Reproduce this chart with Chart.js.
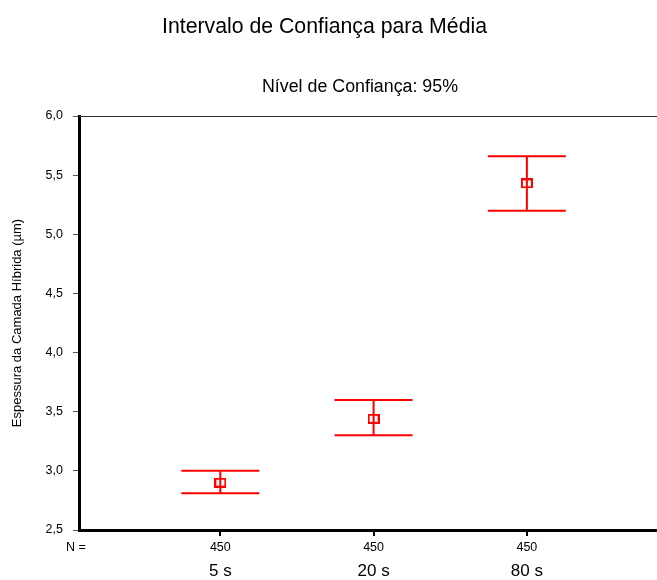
<!DOCTYPE html>
<html lang="pt">
<head>
<meta charset="utf-8">
<title>Intervalo de Confiança para Média</title>
<script src="https://cdn.jsdelivr.net/npm/chart.js@4.4.1/dist/chart.umd.min.js"></script>
<style>
  html, body { margin: 0; padding: 0; background: #ffffff; }
  #wrap { width: 657px; height: 580px; overflow: hidden; }
  canvas { display: block; }
</style>
</head>
<body>
<div id="wrap"><canvas id="chart" width="657" height="580"></canvas></div>
<script>
// Espessura da camada híbrida: média e intervalo de confiança de 95% por tempo
const categories = ['5 s', '20 s', '80 s'];
const nCounts    = [450, 450, 450];
const means      = [2.90, 3.44, 5.43];
const lowerCI    = [2.81, 3.30, 5.20];
const upperCI    = [3.00, 3.60, 5.66];
const yTickValues = [2.5, 3.0, 3.5, 4.0, 4.5, 5.0, 5.5, 6.0];

const FONT = "'Liberation Sans Narrow', 'Arial Narrow', 'Liberation Sans', Arial, sans-serif";
const RED = '#ff0000';
const X_MIN = 0.078, X_MAX = 3.849;
const N_LABEL_POS = X_MIN - 0.02;

// hollow rectangular marker for the mean
function makeMarker() {
  const c = document.createElement('canvas');
  c.width = 12; c.height = 10;
  const g = c.getContext('2d');
  g.strokeStyle = RED;
  g.lineWidth = 2;
  g.strokeRect(1, 1, 10, 8);
  return c;
}

// whiskers with caps, drawn from the interval arrays through the scales
const intervalPlugin = {
  id: 'intervalPlugin',
  beforeDatasetsDraw(chart) {
    const { ctx } = chart;
    const xs = chart.scales.x, ys = chart.scales.y;
    const capHalf = 39;
    ctx.save();
    ctx.strokeStyle = RED;
    ctx.lineWidth = 2;
    categories.forEach((c, i) => {
      const px = xs.getPixelForValue(i + 1);
      const yHi = ys.getPixelForValue(upperCI[i]);
      const yLo = ys.getPixelForValue(lowerCI[i]);
      ctx.beginPath();
      ctx.moveTo(px, yHi); ctx.lineTo(px, yLo);
      ctx.moveTo(px - capHalf, yHi); ctx.lineTo(px + capHalf, yHi);
      ctx.moveTo(px - capHalf, yLo); ctx.lineTo(px + capHalf, yLo);
      ctx.stroke();
    });
    ctx.restore();
  }
};

// headings and the thin top frame line
const captionPlugin = {
  id: 'captionPlugin',
  afterDraw(chart) {
    const { ctx, chartArea } = chart;
    ctx.save();
    ctx.strokeStyle = '#333333';
    ctx.lineWidth = 1;
    const ty = Math.floor(chartArea.top) + 0.5;
    ctx.beginPath();
    ctx.moveTo(chartArea.left, ty); ctx.lineTo(chartArea.right, ty);
    ctx.stroke();

    ctx.fillStyle = '#000000';
    ctx.textAlign = 'center';
    ctx.textBaseline = 'alphabetic';
    ctx.font = "22px " + FONT;
    ctx.fillText('Intervalo de Confiança para Média', 324.5, 33, 325);
    ctx.font = "18px " + FONT;
    ctx.fillText('Nível de Confiança: 95%', 360, 92, 196);
    ctx.restore();
  }
};

// keep the horizontal axes flush with the chart edges
function flatBottomAxis(height) {
  return s => {
    s.height = height;
    s.paddingLeft = 0;
    s.paddingRight = 0;
  };
}

new Chart(document.getElementById('chart'), {
  type: 'scatter',
  data: {
    datasets: [{
      label: 'Média',
      data: means.map((m, i) => ({ x: i + 1, y: m })),
      pointStyle: makeMarker(),
      pointRadius: 6,
      pointHoverRadius: 6,
      showLine: false,
      xAxisID: 'x',
      yAxisID: 'y'
    }]
  },
  options: {
    responsive: false,
    animation: false,
    events: [],
    layout: { autoPadding: false, padding: { top: 116, right: 0, bottom: 0, left: 0 } },
    plugins: {
      legend: { display: false },
      tooltip: { enabled: false },
      title: { display: false }
    },
    scales: {
      y: {
        type: 'linear',
        position: 'left',
        min: 2.5,
        max: 6.0,
        afterBuildTicks: s => { s.ticks = yTickValues.map(v => ({ value: v })); },
        afterFit: s => { s.width = 79; },
        border: { display: true, color: '#000000', width: 3 },
        grid: { drawOnChartArea: false, drawTicks: true, tickLength: 6, color: '#555555', lineWidth: 1 },
        ticks: {
          padding: 10,
          color: '#000000',
          font: { family: FONT, size: 12.5 },
          callback: v => v.toFixed(1).replace('.', ',')
        },
        title: {
          display: true,
          text: 'Espessura da Camada Híbrida (µm)',
          color: '#000000',
          font: { family: FONT, size: 13 },
          padding: { top: 10, bottom: 0 }
        }
      },
      x: {
        type: 'linear',
        position: 'bottom',
        weight: 0,
        min: X_MIN,
        max: X_MAX,
        bounds: 'data',
        afterBuildTicks: s => {
          s.ticks = [{ value: N_LABEL_POS }].concat(categories.map((c, i) => ({ value: i + 1 })));
        },
        afterFit: flatBottomAxis(22),
        border: { display: true, color: '#000000', width: 3 },
        grid: {
          drawOnChartArea: false,
          drawTicks: true,
          tickLength: 6,
          lineWidth: 2,
          tickWidth: 2,
          color: '#000000',
          tickColor: ctx => (ctx.tick && ctx.tick.value === N_LABEL_POS) ? 'rgba(0,0,0,0)' : '#000000'
        },
        ticks: {
          autoSkip: false,
          maxRotation: 0,
          padding: 4,
          color: '#000000',
          font: { family: FONT, size: 12.5 },
          callback: v => (v === N_LABEL_POS) ? 'N =' : String(nCounts[Math.round(v) - 1])
        }
      },
      cat: {
        type: 'linear',
        position: 'bottom',
        weight: 1,
        min: X_MIN,
        max: X_MAX,
        bounds: 'data',
        afterBuildTicks: s => { s.ticks = categories.map((c, i) => ({ value: i + 1 })); },
        afterFit: flatBottomAxis(28),
        border: { display: false },
        grid: { display: false, drawTicks: false },
        ticks: {
          autoSkip: false,
          maxRotation: 0,
          padding: 9,
          color: '#000000',
          font: { family: FONT, size: 17 },
          callback: v => categories[Math.round(v) - 1]
        }
      }
    }
  },
  plugins: [intervalPlugin, captionPlugin]
});
</script>
</body>
</html>
